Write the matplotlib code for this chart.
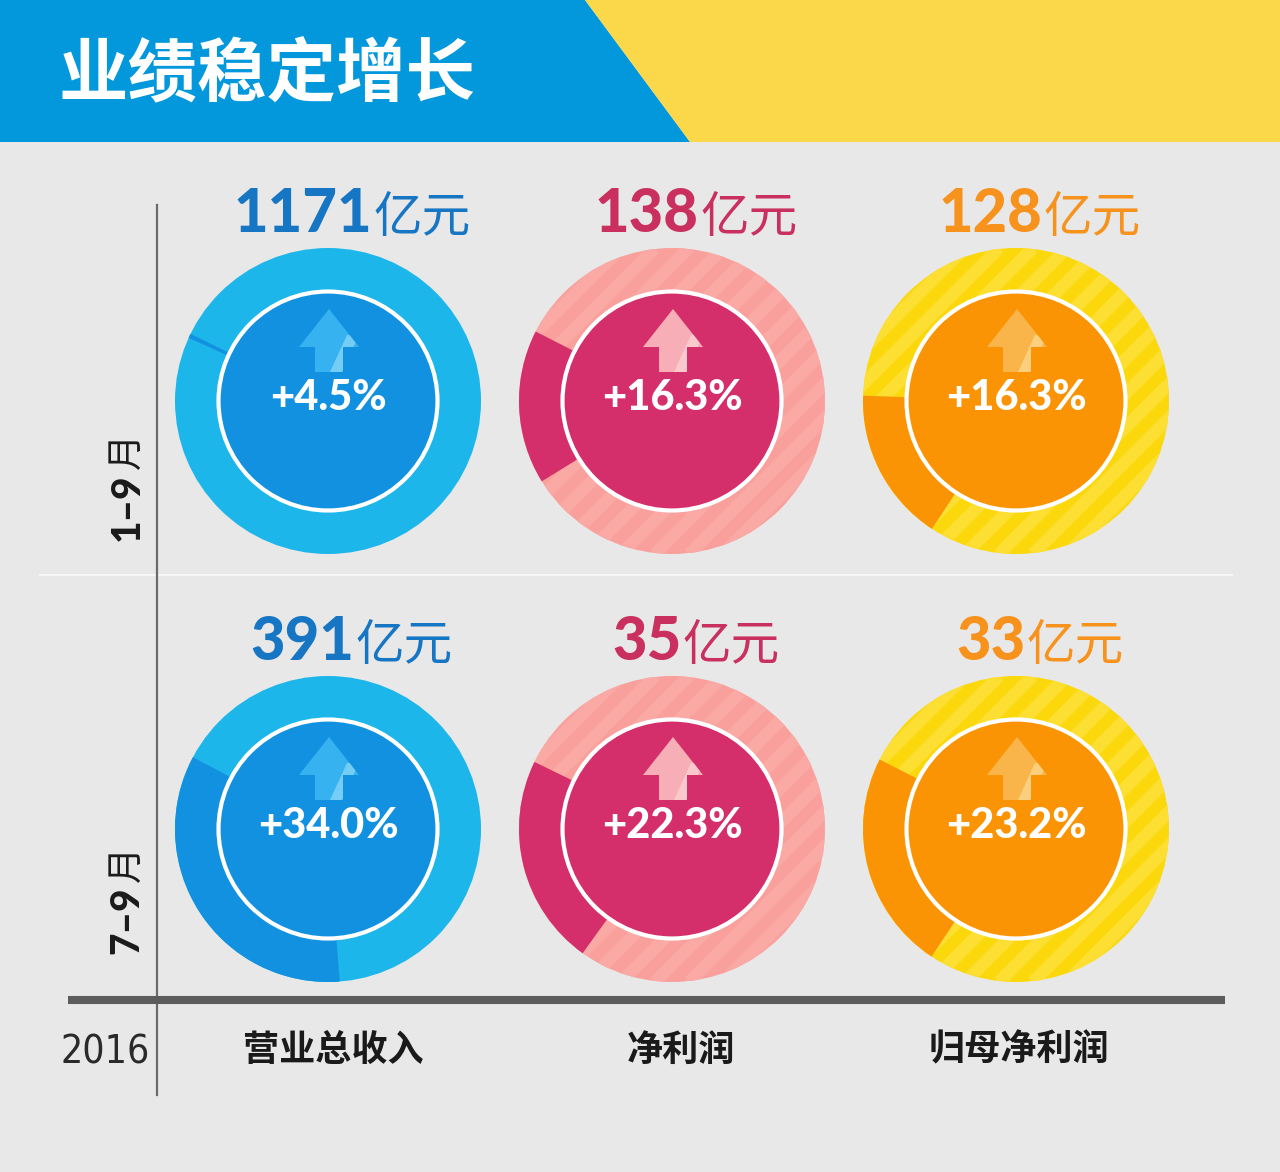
import matplotlib
matplotlib.use('Agg')
import matplotlib.pyplot as plt
from matplotlib.patches import Circle, Wedge, Polygon
from matplotlib.offsetbox import TextArea, HPacker, AnnotationBbox

# ---------------- data ----------------
title = "业绩稳定增长"
categories = ["营业总收入", "净利润", "归母净利润"]
period_nums = ["1–9", "7–9"]
period_unit = "月"
year_label = "2016"
values = [[1171, 138, 128], [391, 35, 33]]          # 亿元
unit = "亿元"
growth = [[4.5, 16.3, 16.3], [34.0, 22.3, 23.2]]    # % yoy
ring_share = [[0.45, 16.3, 16.3], [34.0, 22.3, 23.2]]  # dark part of ring, % (as drawn)
ring_start = [[154, 153, 178], [152, 154, 153]]      # degrees, screen orientation

# ---------------- style ----------------
bg = '#e8e8e8'
light_ring = ['#1cb6ea', '#f9a09c', '#fbd80c']
dark_fill = ['#1291e0', '#d42f6a', '#fb9404']
ring_stripe = [None, '#faa9a5', '#fcdf32']
arrow_col = ['#35b2ef', '#f7aeb6', '#fab54a']
arrow_stripe = ['#74cdf5', '#fbc9cc', '#fccf7e']
value_col = ['#1776c3', '#c93060', '#f7921c']

W, H = 1280, 1172
fig = plt.figure(figsize=(W / 100, H / 100), dpi=100, facecolor=bg)
ax = fig.add_axes([0, 0, 1, 1])
ax.set_xlim(0, W)
ax.set_ylim(H, 0)
ax.set_facecolor(bg)
ax.axis('off')

cjk = ['Noto Sans CJK SC', 'DejaVu Sans']
latin = ['Lato', 'DejaVu Sans']

# header
ax.add_patch(Polygon([(0, 0), (585, 0), (690, 142), (0, 142)], closed=True,
                     fc='#0397db', ec='none', zorder=1))
ax.add_patch(Polygon([(585, 0), (W, 0), (W, 142), (690, 142)], closed=True,
                     fc='#fbd84a', ec='none', zorder=1))
ax.text(58, 76, title, color='white', fontsize=50, fontweight='black',
        family=cjk, ha='left', va='center', zorder=3)

# grid lines
ax.plot([40, 1232], [575, 575], color='#f6f6f6', lw=1.5, zorder=1)
ax.plot([157, 157], [205, 1095], color='#6a6a6a', lw=1.6, zorder=2)
ax.plot([68, 1225], [1000, 1000], color='#5c5c5c', lw=5.8, solid_capstyle='butt', zorder=2)

col_x = [328, 672, 1016]
row_y = [401, 829]
R, r_in = 153, 108

for i in range(2):
    for j in range(3):
        cx, cy = col_x[j], row_y[i]
        outer = Circle((cx, cy), R, fc=light_ring[j], ec='none', zorder=2)
        ax.add_patch(outer)
        if ring_stripe[j]:
            d = 34
            for k in range(-12, 13):
                ln, = ax.plot([cx + k * d - R, cx + k * d + R], [cy + R, cy - R],
                              color=ring_stripe[j], lw=9, solid_capstyle='butt', zorder=2.1)
                ln.set_clip_path(outer)
        s = ring_start[i][j]
        span = ring_share[i][j] / 100 * 360
        ax.add_patch(Wedge((cx, cy), R, -(s + span), -s, fc=dark_fill[j], ec='none', zorder=2.5))
        ax.add_patch(Circle((cx, cy), r_in, fc=dark_fill[j], ec='none', zorder=3))
        ax.add_patch(Circle((cx, cy), 109.5, fc='none', ec='white', lw=3.0, zorder=3.5))

        # arrow
        arr = Polygon([(cx + 1, cy - 92), (cx + 31, cy - 54), (cx + 15, cy - 54),
                       (cx + 15, cy - 29), (cx - 13, cy - 29), (cx - 13, cy - 54),
                       (cx - 29, cy - 54)], closed=True, fc=arrow_col[j], ec='none', zorder=4)
        ax.add_patch(arr)
        stripe = Polygon([(cx + 2, cy - 29), (cx + 14, cy - 29), (cx + 31, cy - 66),
                          (cx + 19, cy - 66)], closed=True, fc=arrow_stripe[j], ec='none', zorder=4.1)
        ax.add_patch(stripe)
        stripe.set_clip_path(arr)

        ax.text(cx, cy - 3, f"+{growth[i][j]:.1f}%", color='white', fontsize=30,
                fontweight='black', family=latin, ha='center', va='center', zorder=5)

        # value headline
        num = TextArea(f"{values[i][j]}", textprops=dict(color=value_col[j], fontsize=43,
                                                          fontweight='black', family=latin))
        un = TextArea(unit, textprops=dict(color=value_col[j], fontsize=35,
                                           fontweight='light', family=cjk))
        box = HPacker(children=[num, un], align='baseline', pad=0, sep=1)
        ab = AnnotationBbox(box, (cx + 24, cy - 186), frameon=False, box_alignment=(0.5, 0.5),
                            zorder=5)
        ax.add_artist(ab)

# row labels
row_label_bottom = [541, 954]
for i in range(2):
    yb = row_label_bottom[i]
    ax.text(127, yb, period_nums[i], rotation=90, fontsize=28, fontweight='black',
            family=latin, color='#1a1a1a', ha='center', va='bottom', zorder=5)
    ax.text(127, yb - 72, period_unit, rotation=90, fontsize=26, fontweight='regular',
            family=cjk, color='#1a1a1a', ha='center', va='bottom', zorder=5)

# bottom labels
ax.text(105, 1052, year_label, fontsize=28, family=['DejaVu Sans'], fontstretch='condensed',
        fontweight='light', color='#2a2a2a', ha='center', va='center', zorder=5)
cat_x = [333, 681, 1019]
for j in range(3):
    ax.text(cat_x[j], 1050, categories[j], fontsize=26, fontweight='bold', family=cjk,
            color='#1a1a1a', ha='center', va='center', zorder=5)

fig.savefig('out.png', dpi=100, facecolor=bg)
